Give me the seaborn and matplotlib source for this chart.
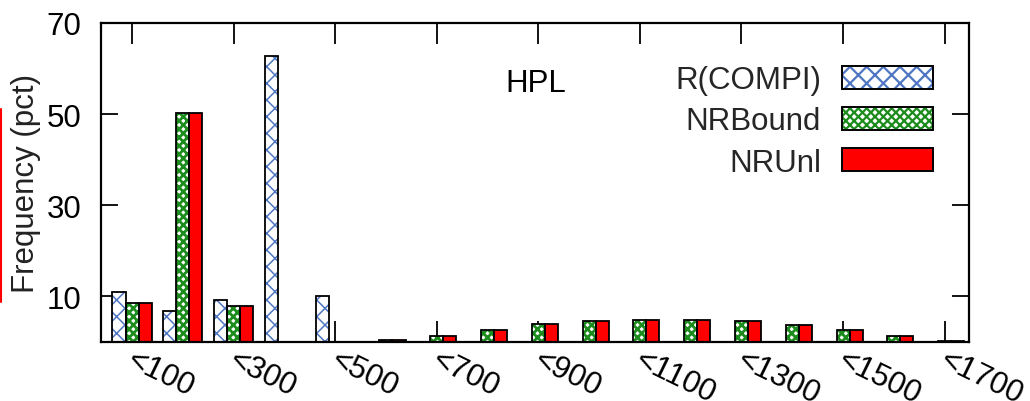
import numpy as np
import pandas as pd
import matplotlib
matplotlib.use("Agg")
import matplotlib.pyplot as plt
import matplotlib.transforms as mtransforms
import seaborn as sns
from matplotlib.patches import Rectangle, Patch
from matplotlib.legend_handler import HandlerTuple
from matplotlib.lines import Line2D

# ---------------- data ----------------
categories = ["<100", "<200", "<300", "<400", "<500", "<600", "<700", "<800", "<900",
              "<1000", "<1100", "<1200", "<1300", "<1400", "<1500", "<1600", "<1700"]
series_names = ["R(COMPI)", "NRBound", "NRUnl"]
rcompi = [10.9, 6.8, 9.1, 62.7, 10.1, 0, 0, 0, 0, 0, 0, 0, 0, 0, 0, 0, 0]
nrbound = [8.4, 50.2, 7.8, 0, 0, 0.4, 1.3, 2.5, 3.8, 4.5, 4.7, 4.7, 4.5, 3.7, 2.5, 1.2, 0.2]
nrunl = [8.4, 50.2, 7.8, 0, 0, 0.4, 1.2, 2.5, 3.8, 4.5, 4.7, 4.7, 4.5, 3.7, 2.5, 1.1, 0.2]
y_ticks = [10, 30, 50, 70]
shown_xticks = categories[::2]
panel_title = "HPL"
y_label = "Frequency (pct)"

df = pd.DataFrame({
    "bin": categories * 3,
    "series": np.repeat(series_names, len(categories)),
    "value": rcompi + nrbound + nrunl,
})

styles = {
    "R(COMPI)": dict(face="white", hatch="xx", hcolor="#4f76c2", hlw=1.1),
    "NRBound": dict(face="white", hatch="xxxx", hcolor="#1c8c1c", hlw=2.0),
    "NRUnl": dict(face="#ff0000", hatch=None, hcolor="#ff0000", hlw=1.0),
}

# ---------------- style ----------------
sns.set_theme(style="ticks")
plt.rcParams["font.family"] = ["Liberation Sans", "DejaVu Sans"]
plt.rcParams["hatch.linewidth"] = 1.6
FS = 22.5

fig = plt.figure(figsize=(10.3, 4.02), dpi=100)
ax = fig.add_axes([0.0981, 0.148, 0.8427, 0.7923])

sns.barplot(data=df, x="bin", y="value", hue="series", order=categories,
            hue_order=series_names, width=0.77, saturation=1, errorbar=None,
            palette=["white", "white", "red"], legend=False, ax=ax)

for name, cont in zip(series_names, ax.containers):
    st = styles[name]
    for p in cont:
        p.set_facecolor(st["face"])
        p.set_edgecolor(st["hcolor"])
        p.set_linewidth(0)
        if st["hatch"]:
            p.set_hatch(st["hatch"])
            if hasattr(p, "set_hatch_linewidth"):
                p.set_hatch_linewidth(st["hlw"])
        ax.add_patch(Rectangle(p.get_xy(), p.get_width(), p.get_height(),
                               fill=False, edgecolor="black", lw=1.3,
                               zorder=p.get_zorder() + 0.1))

# legend
handles = []
for name in series_names:
    st = styles[name]
    h1 = Patch(facecolor=st["face"], edgecolor=st["hcolor"], lw=0,
               hatch=st["hatch"])
    if st["hatch"] and hasattr(h1, "set_hatch_linewidth"):
        h1.set_hatch_linewidth(st["hlw"])
    h2 = Patch(fill=False, edgecolor="black", lw=1.4)
    handles.append((h1, h2))
ax.legend(handles, series_names, handler_map={tuple: HandlerTuple(ndivide=1, pad=0)},
          loc="upper right", bbox_to_anchor=(0.9585, 0.868), frameon=False,
          markerfirst=False, handlelength=2.9, handleheight=0.75,
          handletextpad=0.68, labelspacing=0.36, borderpad=0, borderaxespad=0,
          fontsize=FS)

ax.text(0.501, 0.786, panel_title, transform=ax.transAxes, ha="center",
        va="baseline", fontsize=FS, color="black")

ax.set_xlim(-0.61, 16.48)
ax.set_ylim(0, 70)
ax.set_yticks(y_ticks)
ax.set_yticklabels([str(v) for v in y_ticks], fontsize=FS)
ax.set_xticks(range(0, len(categories), 2))
ax.set_xticklabels(shown_xticks, rotation=-26, ha="left", va="top",
                   rotation_mode="anchor", fontsize=22.5)
ax.set_xlabel("")
ax.set_ylabel(y_label, fontsize=FS, labelpad=4, color="#222222")
ax.tick_params(axis="x", direction="in", length=15, width=1.3, top=True,
               pad=0, colors="black")
ax.tick_params(axis="y", direction="in", length=12, width=1.3, right=True,
               pad=14, colors="black")
for s in ax.spines.values():
    s.set_visible(True)
    s.set_color("black")
    s.set_linewidth(1.6)

# shift rotated x tick labels slightly right/down (after tick_params)
offset = mtransforms.ScaledTranslation(4 / 100, -3 / 100, fig.dpi_scale_trans)
for lab in ax.get_xticklabels():
    lab.set_transform(lab.get_transform() + offset)

# thin red edge artifact at left border of the image
fig.add_artist(Line2D([0.001, 0.001], [1 - 110 / 402, 1 - 303 / 402],
                      transform=fig.transFigure, color="red", lw=1.5))

fig.savefig("out.png", dpi=100)
